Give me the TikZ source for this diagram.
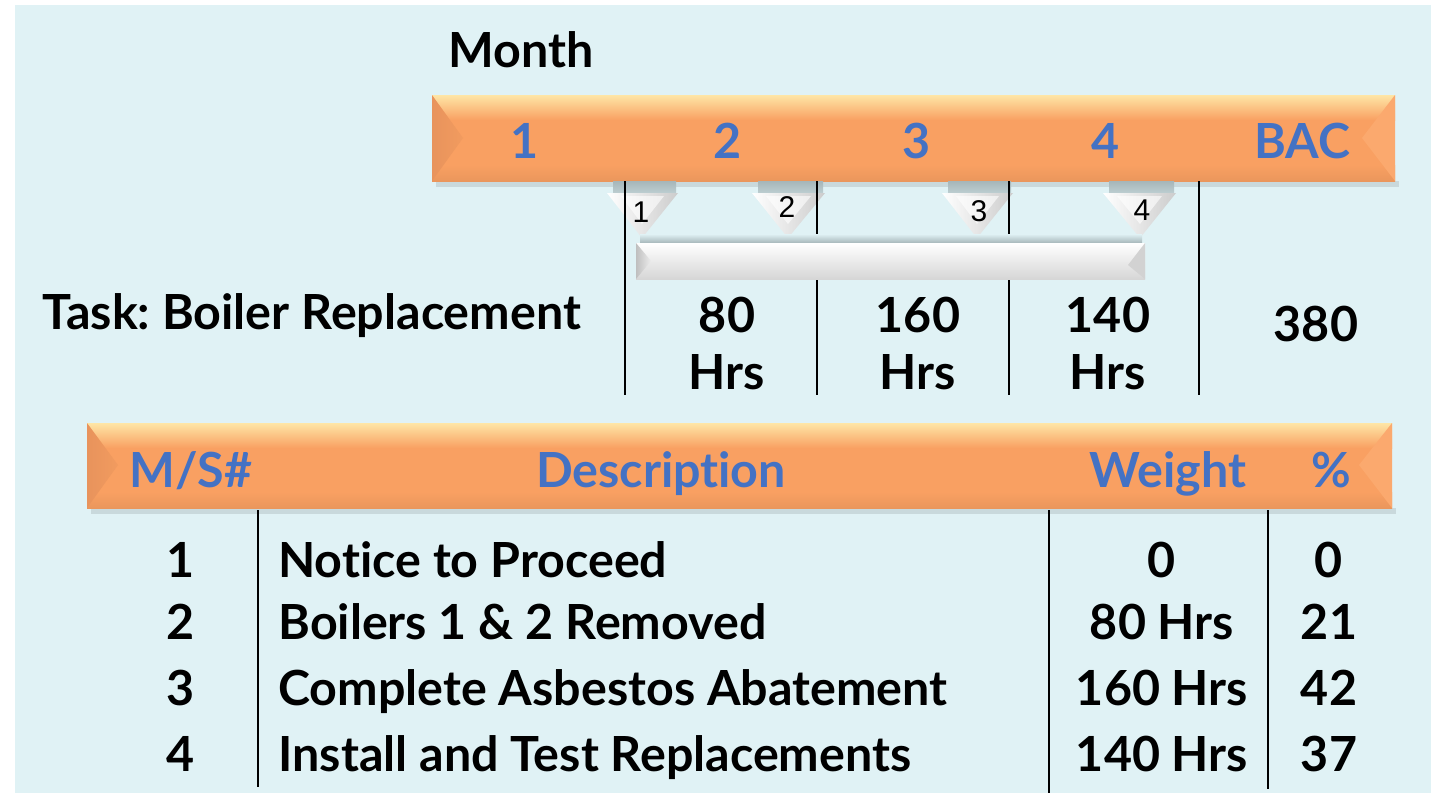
\documentclass[tikz,border=0pt]{standalone}
\usepackage{fontspec}
\setmainfont{Lato}[Ligatures=NoCommon]
\newfontfamily\markfont{Liberation Sans}
\usepackage{xcolor}
\frenchspacing

\definecolor{bgcyan}{HTML}{E0F2F5}
\definecolor{barorange}{HTML}{F9A062}
\definecolor{barhigh}{HTML}{FEE6A6}
\definecolor{bardark}{HTML}{E8935C}
\definecolor{barlight}{HTML}{FBA96E}
\definecolor{headblue}{HTML}{4472C4}
\definecolor{shadowgrey}{HTML}{A6B6B9}

\tikzset{
  lbl/.style={font=\fontsize{24.2}{28.5}\selectfont\bfseries, inner sep=0pt, anchor=base},
  head/.style={lbl, text=headblue},
  msnum/.style={font=\markfont\fontsize{15}{18}\selectfont, inner sep=0pt, anchor=base},
  rule/.style={line width=1pt},
}

\begin{document}
\begin{tikzpicture}[x=0.5pt, y=-0.5pt]
        \useasboundingbox (0,0) rectangle (1438,793);
        \fill[bgcyan] (15,5) rectangle (1431,793);

        \node[lbl] (month) at (521,67) {Month};

        % month bar
        \fill[black, opacity=.10] (436,181) rectangle (1399,187);
        \fill[barorange] (432,95) rectangle (1395,181);
        \shade[top color=barhigh, bottom color=barorange] (432,95) rectangle (1395,120);
        \shade[top color=barorange, bottom color=barorange!94!black] (432,165) rectangle (1395,181);
        \shade[left color=bardark, right color=barorange!97!black] (432,95) -- (463,138) -- (432,181) -- cycle;
        \fill[barlight] (1395,95) -- (1362,138) -- (1395,181) -- cycle;
        \node[head] (col1) at (525,158) {1};
        \node[head] (col2) at (728,158) {2};
        \node[head] (col3) at (917,158) {3};
        \node[head] (col4) at (1106,158) {4};
        \node[head] (bac) at (1302,158) {BAC};

        % milestones
        \foreach \l/\r/\a/\tx/\ty/\n in {607/678/642/641/222/1, 752/825/788/787/217/2, 942/1013/977/979/221/3, 1103/1176/1140/1142/220/4} {
          \shade[top color=shadowgrey, bottom color=shadowgrey!60!bgcyan] (\l+6,181) rectangle (\r-2,193);
          \shade[left color=white, right color=gray!40] (\l,193) -- (\r,193) -- (\a,238) -- cycle;
          \fill[white, opacity=.6] (\l+14,196) -- (\r-14,196) -- (\a,224) -- cycle;
          \node[msnum] (ms\n) at (\tx,\ty) {\n};
        }

        \foreach \x in {625,817,1009,1199}
          \draw[rule] (\x,181) -- (\x,395);

        % task bar
        \shade[top color=bgcyan, bottom color=shadowgrey] (640,234) rectangle (1142,243);
        \shade[top color=white, middle color=white, bottom color=gray!32] (636,243) rectangle (1145,279);
        \shade[left color=gray!50, right color=gray!15] (636,243) -- (651,261) -- (636,279) -- cycle;
        \fill[gray!35] (1145,243) -- (1128,265) -- (1145,279) -- cycle;

        \node[lbl, anchor=base west] (task) at (42,329) {Task: Boiler Replacement};
        \node[lbl, align=center] (hrs1) at (727,389) {80\\Hrs};
        \node[lbl, align=center] (hrs2) at (918,389) {160\\Hrs};
        \node[lbl, align=center] (hrs3) at (1108,389) {140\\Hrs};
        \node[lbl] (total) at (1316,341) {380};

        % milestone table
        \fill[black, opacity=.10] (91,508) rectangle (1396,514);
        \fill[barorange] (87,423) rectangle (1392,508);
        \shade[top color=barhigh, bottom color=barorange] (87,423) rectangle (1392,448);
        \shade[top color=barorange, bottom color=barorange!94!black] (87,492) rectangle (1392,508);
        \shade[left color=bardark, right color=barorange!97!black] (87,423) -- (118,465) -- (87,508) -- cycle;
        \fill[barlight] (1392,423) -- (1359,465) -- (1392,508) -- cycle;
        \node[head] (hnum) at (191,487) {M/S\#};
        \node[head] (hdesc) at (661,487) {Description};
        \node[head] (hwt) at (1168,487) {Weight};
        \node[head] (hpct) at (1331,487) {\%};

        \draw[rule] (258,510) -- (258,787);
        \draw[rule] (1049,510) -- (1049,793);
        \draw[rule] (1268,510) -- (1268,789);

        \foreach \y/\n/\d/\w/\p in {577/1/Notice to Proceed/0/0, 639/2/Boilers 1 \& 2 Removed/80 Hrs/21, 705/3/Complete Asbestos Abatement/160 Hrs/42, 771/4/Install and Test Replacements/140 Hrs/37} {
          \node[lbl] (num\n) at (181,\y) {\n};
          \node[lbl, anchor=base west] (desc\n) at (278,\y) {\d};
          \node[lbl] (wt\n) at (1162,\y) {\w};
          \node[lbl] (pct\n) at (1329,\y) {\p};
        }
\end{tikzpicture}
\end{document}
